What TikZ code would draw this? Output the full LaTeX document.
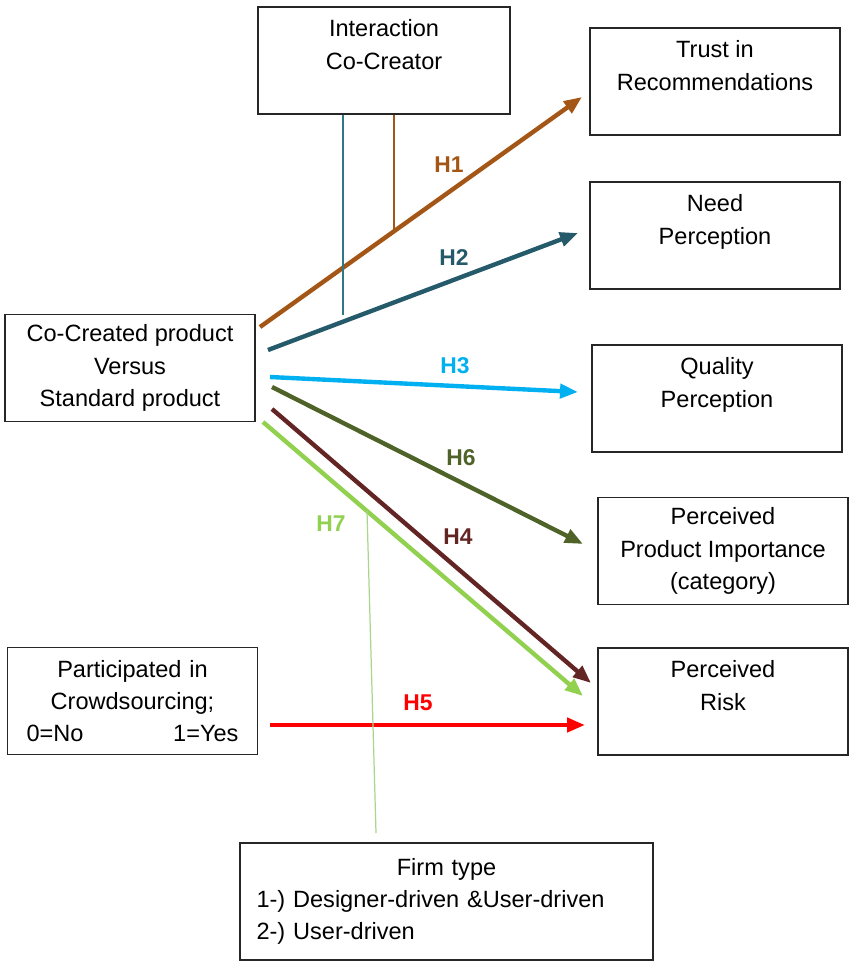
\documentclass[tikz,border=0pt]{standalone}
\usepackage{fontspec}
\setmainfont{Liberation Sans}
\usetikzlibrary{arrows.meta, positioning, calc}
\definecolor{hone}{RGB}{163,86,22}
\definecolor{htwo}{RGB}{36,90,105}
\definecolor{hthree}{RGB}{0,176,240}
\definecolor{hfour}{RGB}{99,37,35}
\definecolor{hfive}{RGB}{255,0,0}
\definecolor{hsix}{RGB}{79,98,40}
\definecolor{hseven}{RGB}{146,208,80}
\definecolor{modteal}{RGB}{49,120,135}
\definecolor{modgreen}{RGB}{170,214,140}

\begin{document}
\begin{tikzpicture}[x=0.02cm, y=-0.02cm, font=\fontsize{13.4}{18.3}\selectfont,
    box/.style={rectangle, draw=black!85, line width=0.9pt, minimum width=5cm, minimum height=2.14cm, align=center, inner sep=2pt},
    hyp/.style={line width=2.5pt, -{Triangle[length=0.36cm, width=0.28cm]}},
    hlabel/.style={font=\fontsize{13}{15}\selectfont\bfseries},
    modline/.style={line width=0.7pt}
]
\useasboundingbox (0,0) rectangle (850,963);

% Boxes
\node[box, minimum width=5.04cm] (inter) at (384,60.5) {Interaction\\Co-Creator\\\mbox{}};
\node[box] (trust) at (715,81.5) {Trust in\\Recommendations\\\mbox{}};
\node[box] (need) at (715,235.5) {Need\\Perception\\\mbox{}};
\node[box] (quality) at (717,398.5) {Quality\\Perception\\\mbox{}};
\node[box] (importance) at (723,551) {Perceived\\Product Importance\\(category)};
\node[box] (risk) at (723,701.5) {Perceived\\Risk\\\mbox{}};
\node[box] (cocreated) at (130,368) {Co-Created product\\Versus\\Standard product};
\node[box, text width=4.24cm] (crowd) at (132.5,701) {Participated in\\Crowdsourcing;\\0=No\hfill 1=Yes};
\node[box, minimum width=8.26cm, minimum height=2.34cm, text width=7.6cm, align=left] (firm) at (446.5,901.5)
    {\hfill Firm type\hfill\null\\1-) Designer-driven \&User-driven\\2-) User-driven};

% Arrow ends
\coordinate (h1s) at (260,327); \coordinate (h1e) at (582,97);
\coordinate (h2s) at (268,350); \coordinate (h2e) at (578,233);
\coordinate (h3s) at (270,377); \coordinate (h3e) at (578,392);
\coordinate (h6s) at (272,387); \coordinate (h6e) at (583,544);
\coordinate (h4s) at (272,409); \coordinate (h4e) at (591,683);
\coordinate (h7s) at (263,422); \coordinate (h7e) at (583,696);
\coordinate (h5s) at (270,725); \coordinate (h5e) at (585,725);

% Hypotheses
\draw[hyp, hone] (h1s) -- (h1e) node[hlabel] at (449,165) {H1};
\draw[hyp, htwo] (h2s) -- (h2e) node[hlabel] at (454,258) {H2};
\draw[hyp, hthree] (h3s) -- (h3e) node[hlabel] at (455,366) {H3};
\draw[hyp, hsix] (h6s) -- (h6e) node[hlabel] at (461,458) {H6};
\draw[hyp, hseven] (h7s) -- (h7e) node[hlabel] at (331,524) {H7};
\draw[hyp, hfour] (h4s) -- (h4e) node[hlabel] at (458,537) {H4};
\draw[hyp, hfive] (h5s) -- (h5e) node[hlabel] at (418,703) {H5};

% Moderators
\coordinate (h1m) at ($(h1s)!0.416!(h1e)$);
\coordinate (h2m) at (343,315);
\coordinate (h7m) at ($(h7s)!0.325!(h7e)$);
\coordinate (firmtop) at (376,833);
\draw[modline, hone] (inter.south -| h1m) -- (h1m);
\draw[modline, modteal] (inter.south -| h2m) -- (h2m);
\draw[modline, modgreen] (h7m) -- (firmtop);
\end{tikzpicture}
\end{document}
